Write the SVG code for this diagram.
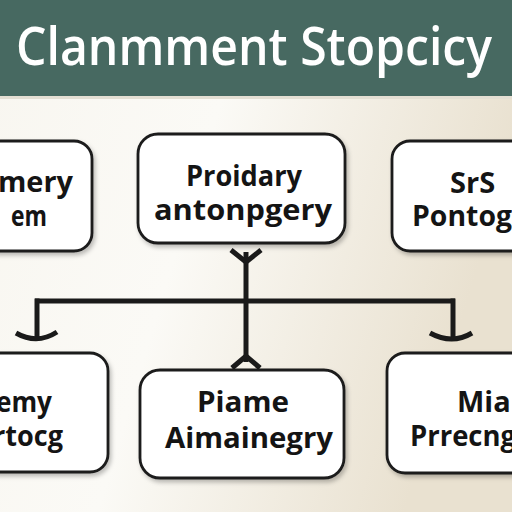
<svg xmlns="http://www.w3.org/2000/svg" width="512" height="512" viewBox="0 0 512 512">
  <defs>
    <linearGradient id="bg" x1="0" y1="0" x2="1" y2="0.3">
      <stop offset="0" stop-color="#f8f6f0"/>
      <stop offset="0.45" stop-color="#fbfaf6"/>
      <stop offset="1" stop-color="#e9e1d0"/>
    </linearGradient>
    <filter id="sh" x="-10%" y="-10%" width="130%" height="130%">
      <feDropShadow dx="2" dy="3" stdDeviation="2" flood-color="#000" flood-opacity="0.25"/>
    </filter>
    <style>
      .box { fill: #ffffff; stroke: #1a1a1a; stroke-width: 2.8; filter: url(#sh); }
      .lbl { font-family: "Open Sans", "DejaVu Sans", sans-serif; font-weight: 700; font-size: 29px; fill: #141414; }
      .con { fill: none; stroke: #1a1a1a; stroke-width: 5; stroke-linecap: butt; stroke-linejoin: miter; }
      .title { font-family: "Open Sans", "Liberation Sans", sans-serif; font-weight: 600; font-size: 52px; fill: #ffffff; }
    </style>
  </defs>

  <rect x="0" y="0" width="512" height="512" fill="url(#bg)"/>
  <rect x="0" y="0" width="512" height="96" fill="#476961"/>
  <rect x="0" y="96" width="512" height="3" fill="#e4dfd3"/>
  <text class="title" x="254" y="65" text-anchor="middle" textLength="476" lengthAdjust="spacingAndGlyphs">Clanmment Stopcicy</text>

  <g id="connectors">
    <path class="con" d="M246 252 V362"/>
    <path class="con" d="M231 250 L246 262 L261 250"/>
    <path class="con" d="M35 301 H455"/>
    <path class="con" d="M37 298.5 V340"/>
    <path class="con" d="M453 298.5 V340"/>
    <path class="con" d="M16 333 Q37 345 57 332"/>
    <path class="con" d="M430 333 Q452 345 472 333"/>
    <path class="con" d="M232 368 L246 356 L260 368"/>
  </g>

  <g id="node-top-left">
    <rect class="box" x="-20" y="141" width="112" height="110" rx="18"/>
    <text class="lbl" x="73" y="192" text-anchor="end" textLength="75" lengthAdjust="spacingAndGlyphs">mery</text>
    <text class="lbl" x="47" y="226" text-anchor="end" textLength="36" lengthAdjust="spacingAndGlyphs">em</text>
  </g>

  <g id="node-top-center">
    <rect class="box" x="138" y="134" width="207" height="109" rx="20"/>
    <text class="lbl" x="244" y="186" text-anchor="middle" textLength="116" lengthAdjust="spacingAndGlyphs">Proidary</text>
    <text class="lbl" x="243" y="220" text-anchor="middle" textLength="178" lengthAdjust="spacingAndGlyphs">antonpgery</text>
  </g>

  <g id="node-top-right">
    <rect class="box" x="392" y="141" width="140" height="110" rx="18"/>
    <text class="lbl" x="450" y="193">SrS</text>
    <text class="lbl" x="412" y="226" textLength="100" lengthAdjust="spacingAndGlyphs">Pontog</text>
  </g>

  <g id="node-bottom-left">
    <rect class="box" x="-20" y="353" width="128" height="119" rx="18"/>
    <text class="lbl" x="52" y="412" text-anchor="end" textLength="56" lengthAdjust="spacingAndGlyphs">emy</text>
    <text class="lbl" x="63" y="446" text-anchor="end" textLength="70" lengthAdjust="spacingAndGlyphs">rtocg</text>
  </g>

  <g id="node-bottom-center">
    <rect class="box" x="140" y="370" width="204" height="108" rx="20"/>
    <text class="lbl" x="243" y="412" text-anchor="middle" textLength="92" lengthAdjust="spacingAndGlyphs">Piame</text>
    <text class="lbl" x="249" y="448" text-anchor="middle" textLength="168" lengthAdjust="spacingAndGlyphs">Aimainegry</text>
  </g>

  <g id="node-bottom-right">
    <rect class="box" x="387" y="353" width="145" height="120" rx="18"/>
    <text class="lbl" x="457" y="412">Mial</text>
    <text class="lbl" x="410" y="446" textLength="106" lengthAdjust="spacingAndGlyphs">Prrecng</text>
  </g>
</svg>
